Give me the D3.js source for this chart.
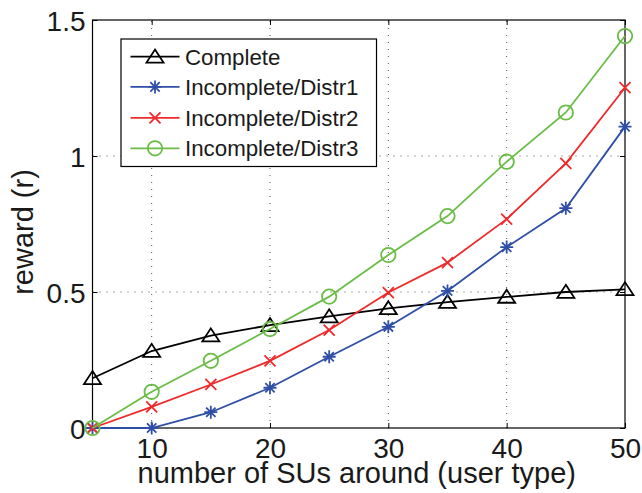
<!DOCTYPE html>
<html>
<head>
<meta charset="utf-8">
<script src="https://cdn.jsdelivr.net/npm/d3@7"></script>
<style>
  html, body { margin: 0; padding: 0; background: #fff; }
  svg { display: block; font-family: "Liberation Sans", Arial, Helvetica, sans-serif; }
</style>
</head>
<body>
<svg id="chart" width="642" height="493"></svg>
<script>
// Number of SUs around (user type)
const users = [5, 10, 15, 20, 25, 30, 35, 40, 45, 50];

// Reward for each information setting
const complete    = [0.183, 0.283, 0.340, 0.378, 0.410, 0.440, 0.463, 0.482, 0.500, 0.510];
const incomplete1 = [0.000, 0.000, 0.058, 0.148, 0.262, 0.372, 0.504, 0.665, 0.808, 1.108];
const incomplete2 = [0.000, 0.078, 0.160, 0.247, 0.360, 0.498, 0.608, 0.768, 0.973, 1.251];
const incomplete3 = [0.000, 0.133, 0.247, 0.364, 0.483, 0.636, 0.779, 0.979, 1.160, 1.441];

const seriesNames = ["Complete", "Incomplete/Distr1", "Incomplete/Distr2", "Incomplete/Distr3"];
const xTicks = [10, 20, 30, 40, 50];
const yTicks = [0, 0.5, 1, 1.5];
const yTickLabels = ["0", "0.5", "1", "1.5"];

const series = [
  { name: seriesNames[0], values: complete,    color: "#000000", marker: "triangle" },
  { name: seriesNames[1], values: incomplete1, color: "#2f4fa6", marker: "star" },
  { name: seriesNames[2], values: incomplete2, color: "#ee2a2a", marker: "cross" },
  { name: seriesNames[3], values: incomplete3, color: "#69bd45", marker: "circle" }
];

const svg = d3.select("#chart");
const plotL = 92.5, plotR = 625, plotT = 20, plotB = 428;

const x = d3.scaleLinear().domain([5, 50]).range([plotL, plotR]);
const y = d3.scaleLinear().domain([0, 1.5]).range([plotB, plotT]);

// Dotted grid at the interior ticks
const grid = svg.append("g").attr("stroke", "#555").attr("stroke-width", 1)
  .attr("stroke-dasharray", "1,6");
xTicks.filter(t => t < 50).forEach(t => {
  grid.append("line").attr("x1", x(t)).attr("x2", x(t)).attr("y1", plotB).attr("y2", plotT);
});
yTicks.filter(t => t > 0 && t < 1.5).forEach(t => {
  grid.append("line").attr("x1", plotL).attr("x2", plotR).attr("y1", y(t)).attr("y2", y(t));
});

// Axes with inward ticks, mirrored on the top and right edges
const tickLen = 5;
const xAxisB = d3.axisBottom(x).tickValues(xTicks).tickSizeInner(-tickLen).tickSizeOuter(0).tickPadding(10);
const xAxisT = d3.axisTop(x).tickValues(xTicks).tickSizeInner(-tickLen).tickSizeOuter(0).tickFormat("");
const yAxisL = d3.axisLeft(y).tickValues(yTicks).tickSizeInner(-tickLen).tickSizeOuter(0).tickPadding(7)
  .tickFormat((d, i) => yTickLabels[i]);
const yAxisR = d3.axisRight(y).tickValues(yTicks).tickSizeInner(-tickLen).tickSizeOuter(0).tickFormat("");

function styleAxis(g) {
  g.select(".domain").remove();
  g.selectAll(".tick line").attr("stroke", "#000").attr("stroke-width", 1);
  g.selectAll(".tick text").attr("fill", "#1a1a1a").style("font-size", "28px");
}
svg.append("g").attr("transform", `translate(0,${plotB})`).call(xAxisB).call(styleAxis)
  .selectAll(".tick text").attr("dy", "0.71em");
svg.append("g").attr("transform", `translate(0,${plotT})`).call(xAxisT).call(styleAxis);
svg.append("g").attr("transform", `translate(${plotL},0)`).call(yAxisL).call(styleAxis)
  .selectAll(".tick text").attr("dy", "0.36em");
svg.append("g").attr("transform", `translate(${plotR},0)`).call(yAxisR).call(styleAxis);

// Axes box
svg.append("rect").attr("x", plotL).attr("y", plotT).attr("width", plotR - plotL).attr("height", plotB - plotT)
  .attr("fill", "none").attr("stroke", "#000").attr("stroke-width", 1.2);

// Marker shapes
function drawMarker(g, type, cx, cy, color) {
  if (type === "triangle") {
    const w = 8.5, h = 13;
    g.append("path")
      .attr("d", `M${cx},${cy - h * 0.55} L${cx + w},${cy + h * 0.45} L${cx - w},${cy + h * 0.45} Z`)
      .attr("fill", "none").attr("stroke", color).attr("stroke-width", 1.8).attr("stroke-linejoin", "miter");
  } else if (type === "circle") {
    g.append("circle").attr("cx", cx).attr("cy", cy).attr("r", 7.2)
      .attr("fill", "none").attr("stroke", color).attr("stroke-width", 1.8);
  } else if (type === "cross") {
    const s = 5.5;
    g.append("path")
      .attr("d", `M${cx - s},${cy - s} L${cx + s},${cy + s} M${cx - s},${cy + s} L${cx + s},${cy - s}`)
      .attr("stroke", color).attr("stroke-width", 1.8).attr("fill", "none");
  } else if (type === "star") {
    const s = 6.5, d = s * 0.72;
    g.append("path")
      .attr("d", `M${cx},${cy - s} L${cx},${cy + s} M${cx - s},${cy} L${cx + s},${cy} ` +
                 `M${cx - d},${cy - d} L${cx + d},${cy + d} M${cx - d},${cy + d} L${cx + d},${cy - d}`)
      .attr("stroke", color).attr("stroke-width", 1.8).attr("fill", "none");
  }
}

const line = d3.line().x((d, i) => x(users[i])).y(d => y(d));

series.forEach(s => {
  const g = svg.append("g");
  g.append("path").datum(s.values).attr("d", line)
    .attr("fill", "none").attr("stroke", s.color).attr("stroke-width", 1.8);
  s.values.forEach((v, i) => drawMarker(g, s.marker, x(users[i]), y(v), s.color));
});

// Legend
const lg = svg.append("g");
lg.append("rect").attr("x", 121).attr("y", 39).attr("width", 255.5).attr("height", 127.5)
  .attr("fill", "#fff").attr("stroke", "#000").attr("stroke-width", 1.2);
const rowY = [56.7, 86.9, 117.8, 148.3];
series.forEach((s, i) => {
  const ry = rowY[i];
  lg.append("line").attr("x1", 130.5).attr("x2", 179.5).attr("y1", ry).attr("y2", ry)
    .attr("stroke", s.color).attr("stroke-width", 1.8);
  drawMarker(lg, s.marker, 155, ry, s.color);
  lg.append("text").attr("x", 185).attr("y", ry).attr("dy", "0.36em")
    .attr("fill", "#1a1a1a").style("font-size", "22.3px").text(s.name);
});

// Axis titles
svg.append("text").attr("x", (plotL + plotR) / 2 - 2).attr("y", 483)
  .attr("text-anchor", "middle").attr("fill", "#1a1a1a").style("font-size", "29px")
  .text("number of SUs around (user type)");
svg.append("text").attr("transform", "translate(33,232) rotate(-90)")
  .attr("text-anchor", "middle").attr("fill", "#1a1a1a").style("font-size", "29px")
  .text("reward (r)");
</script>
</body>
</html>
